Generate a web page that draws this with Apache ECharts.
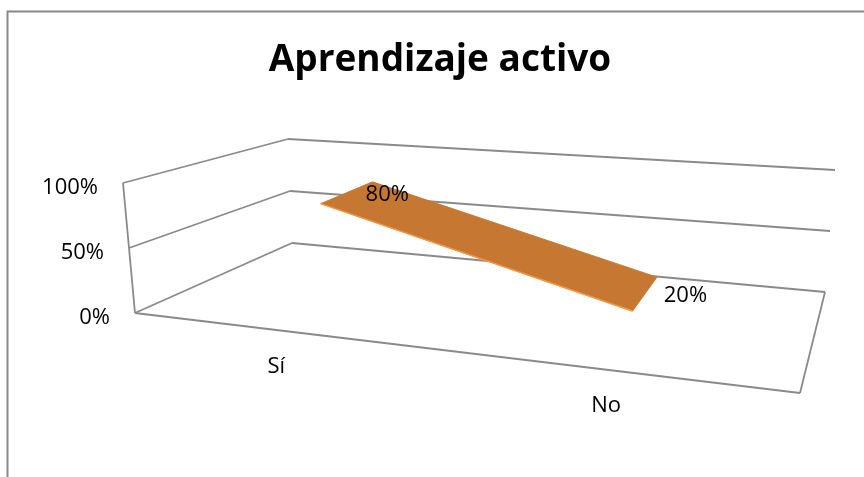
<!DOCTYPE html>
<html>
<head>
<meta charset="utf-8">
<title>Aprendizaje activo</title>
<script src="https://cdn.jsdelivr.net/npm/echarts@6/dist/echarts.min.js"></script>
<style>
  html, body { margin: 0; padding: 0; background: #fff; }
  #chart { width: 864px; height: 477px; }
</style>
</head>
<body>
<div id="chart"></div>
<script>
const chartTitle = 'Aprendizaje activo'
const categories = ['Sí', 'No']
const values = [0.8, 0.2]
const yTicks = [0, 0.5, 1]

// screen corners of the perspective box, key = u v w (category, value, depth)
const box = {
  '000': [135, 313], '010': [123, 183], '001': [292, 243], '011': [288, 139],
  '100': [800, 393], '110': [815, 245], '101': [825, 292], '111': [835, 170]
}
const W_FRONT = 0.35
const W_BACK = 0.74
const GRID_COLOR = '#8a8a8a'
const FONT = '22px "Open Sans", "Noto Sans", sans-serif'

const lerp = (a, b, t) => [a[0] + (b[0] - a[0]) * t, a[1] + (b[1] - a[1]) * t]
const c = (u, v, w) => box['' + u + v + w]

function proj (u, v, w) {
  const front = lerp(lerp(c(0, 0, 0), c(1, 0, 0), u), lerp(c(0, 1, 0), c(1, 1, 0), u), v)
  const back = lerp(lerp(c(0, 0, 1), c(1, 0, 1), u), lerp(c(0, 1, 1), c(1, 1, 1), u), v)
  return lerp(front, back, w)
}

// pixel on the flat hidden grid -> fractions along the box
function toUV (pt, cs) {
  return [(pt[0] - cs.x) / cs.width, (cs.y + cs.height - pt[1]) / cs.height]
}

const pct = v => Math.round(v * 100) + '%'

function line (p, q, color, width) {
  return {
    type: 'line',
    shape: { x1: p[0], y1: p[1], x2: q[0], y2: q[1] },
    style: { stroke: color, lineWidth: width }
  }
}

function text (str, x, y, align) {
  return {
    type: 'text',
    style: { text: str, x, y, align, verticalAlign: 'middle', font: FONT, fill: '#000' }
  }
}

const renderFrame = (params, api) => {
  const cs = params.coordSys
  const t = yTicks[params.dataIndex]
  const [, v] = toUV(api.coord([api.value(0), t]), cs)
  const children = [
    line(proj(0, v, 1), proj(1, v, 1), GRID_COLOR, 1.8),
    line(proj(0, v, 0), proj(0, v, 1), GRID_COLOR, 1.8)
  ]
  if (params.dataIndex === 0) {
    children.push(line(proj(0, 0, 0), proj(0, 1, 0), GRID_COLOR, 1.8))
    children.push(line(proj(0, 0, 0), proj(1, 0, 0), GRID_COLOR, 1.8))
    children.push(line(proj(1, 0, 0), proj(1, 0, 1), GRID_COLOR, 1.8))
  }
  const f = proj(0, v, 0)
  children.push(text(pct(t), f[0] - 25, f[1] + 4.5, 'right'))
  return { type: 'group', children }
}

const renderCategory = (params, api) => {
  const [u] = toUV(api.coord([params.dataIndex, 0]), params.coordSys)
  const f = proj(u, 0, 0)
  return text(categories[params.dataIndex], f[0] - 3, f[1] + 36, 'center')
}

const renderRibbon = (params, api) => {
  const cs = params.coordSys
  const i = params.dataIndex
  const [ua, va] = toUV(api.coord([i, values[i]]), cs)
  const children = []
  if (i < values.length - 1) {
    const [ub, vb] = toUV(api.coord([i + 1, values[i + 1]]), cs)
    const pts = [proj(ua, va, W_FRONT), proj(ub, vb, W_FRONT), proj(ub, vb, W_BACK), proj(ua, va, W_BACK)]
    children.push({
      type: 'polygon',
      shape: { points: pts },
      style: { fill: '#c67833', stroke: '#c67833', lineWidth: 1 }
    })
    children.push(line(pts[0], pts[1], '#f79646', 1.5))
  }
  const mid = lerp(proj(ua, va, W_FRONT), proj(ua, va, W_BACK), 0.5)
  children.push(text(pct(values[i]), mid[0] + 19, mid[1] + 1.5, 'left'))
  return { type: 'group', children }
}

const chart = echarts.init(document.getElementById('chart'))
chart.setOption({
  animation: false,
  graphic: [
    {
      type: 'rect',
      shape: { x: 7.5, y: 11.5, width: 1000, height: 600 },
      style: { fill: 'none', stroke: '#888', lineWidth: 2 }
    },
    {
      type: 'text',
      x: 440,
      y: 60,
      style: {
        text: chartTitle,
        align: 'center',
        verticalAlign: 'middle',
        font: 'bold 37px "Open Sans", "Noto Sans", sans-serif',
        fill: '#000'
      }
    }
  ],
  grid: { left: 0, top: 0, right: 0, bottom: 0 },
  xAxis: { type: 'value', min: -0.4375, max: 1.5786, show: false },
  yAxis: { type: 'value', min: 0, max: 1, interval: 0.5, show: false },
  series: [
    { type: 'custom', renderItem: renderFrame, data: yTicks.map(t => [-0.4375, t]), z: 1 },
    { type: 'custom', renderItem: renderCategory, data: categories.map((cat, i) => [i, 0]), z: 2 },
    { type: 'custom', renderItem: renderRibbon, data: values.map((v, i) => [i, v]), z: 3 }
  ]
})
</script>
</body>
</html>
